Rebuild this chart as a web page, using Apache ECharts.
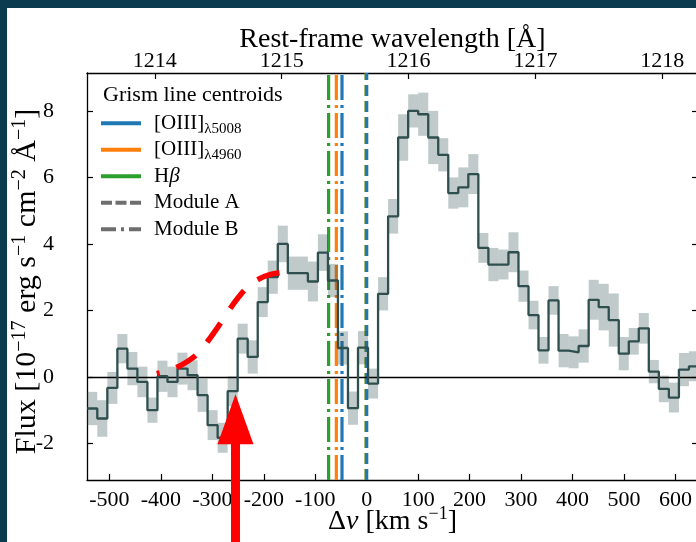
<!DOCTYPE html>
<html><head><meta charset="utf-8">
<script src="https://cdn.jsdelivr.net/npm/echarts@6/dist/echarts.min.js"></script>
<style>html,body{margin:0;padding:0;background:#0b3b4e;}#c{width:696px;height:542px;}</style>
</head><body><div id="c"></div>
<script>
// ---------- data ----------
// velocity bin edges (km/s)
const binEdges = [-543.1,-523.6,-504.1,-484.6,-465.1,-445.7,-426.2,-406.7,-387.2,-367.7,
  -348.2,-328.7,-309.2,-289.7,-270.2,-250.8,-231.3,-211.8,-192.3,-172.8,
  -153.3,-133.8,-114.3,-94.8,-75.3,-55.9,-36.4,-16.9,2.6,22.1,
  41.6,61.1,80.6,100.1,119.6,139.0,158.5,178.0,197.5,217.0,
  236.5,256.0,275.5,295.0,314.5,333.9,353.4,372.9,392.4,411.9,
  431.4,450.9,470.4,489.9,509.4,528.8,548.3,567.8,587.3,606.8,
  626.3,645.8];
// flux per bin (1e-17 erg/s/cm2/A)
const flux = [-0.95,-1.25,-0.33,0.85,0.25,-0.15,-1.0,0.02,-0.15,0.25,
  0.05,-0.55,-1.45,-1.83,-0.43,1.15,0.6,2.25,3.0,4.0,
  3.12,3.12,2.87,3.74,2.9,0.87,-0.94,0.88,-0.2,2.5,
  4.83,7.2,8.0,7.9,7.2,6.68,5.53,5.7,6.1,3.88,
  3.38,3.38,3.75,2.73,1.86,0.8,2.3,0.79,0.74,0.93,
  2.32,2.1,1.71,0.7,1.07,1.46,0.16,-0.36,-0.62,0.22,
  0.32];
// 1-sigma uncertainty per bin
const fluxErr = [0.5,0.55,0.48,0.44,0.5,0.46,0.38,0.47,0.46,0.48,
  0.45,0.5,0.45,0.45,0.45,0.45,0.5,0.45,0.5,0.55,
  0.5,0.5,0.6,0.55,0.5,0.5,0.5,0.5,0.45,0.5,
  0.52,0.7,0.5,0.65,0.8,0.5,0.47,0.6,0.6,0.45,
  0.5,0.45,0.6,0.47,0.43,0.4,0.43,0.5,0.48,0.5,
  0.6,0.7,0.8,0.5,0.4,0.46,0.35,0.4,0.45,0.5,
  0.45];
// red dashed curve
const modelDv   = [-408,-390,-370,-350,-330,-310,-290,-270,-250,-230,-210,-190,-170,-155];
const modelFlux = [0.10,0.17,0.28,0.45,0.68,1.05,1.48,1.95,2.38,2.72,2.94,3.07,3.13,3.15];
// grism line centroids (km/s)
const lineNames = ['[OIII]λ5008','[OIII]λ4960','Hβ'];
const moduleADv = [0, -0.6, -1.2];
const moduleBDv = [-48, -59, -74];
// red arrow
const arrowDv = -255, arrowFlux = -0.52;
// tick labels
const dvTicks = [-500,-400,-300,-200,-100,0,100,200,300,400,500,600];
const lamTicks = [1214,1215,1216,1217,1218];
const fluxTicks = [-2,0,2,4,6,8];

// ---------- chart ----------
const FONT = "'Liberation Serif', serif";
const X_MIN = -543.6, X_MAX = 643.9, Y_MIN = -3.1, Y_MAX = 9.14;
const LYA = 1215.67, C_KMS = 299792.458;
const lamMin = LYA * (1 + X_MIN / C_KMS), lamMax = LYA * (1 + X_MAX / C_KMS);
const lineColors = ['#1f77b4', '#ff7f0e', '#2ca02c'];
const GRAY = '#6e6e6e';
const dashA = [11, 5], dashB = [25, 5, 3, 5];

const chart = echarts.init(document.getElementById('c'), null, {renderer: 'canvas', width: 696, height: 542});

function axisCommon(ticks) {
  return {
    nameMoveOverlap: false,
    axisLine: {show: true, onZero: false, lineStyle: {color: '#000', width: 1.3}},
    axisTick: {show: true, inside: true, length: 6, customValues: ticks, lineStyle: {color: '#000', width: 1.2}},
    splitLine: {show: false},
    minorTick: {show: false}
  };
}
function nameStyle(size, sup) {
  return {
    fontFamily: FONT, fontSize: size, color: '#000', lineHeight: 34,
    rich: {
      sup: {fontFamily: FONT, fontSize: sup, lineHeight: 16, verticalAlign: 'top', color: '#000'},
      i: {fontFamily: FONT, fontSize: size, fontStyle: 'italic', lineHeight: 34, color: '#000'}
    }
  };
}

const series = [];
[2, 1, 0].forEach(i => {
  series.push({type: 'line', name: lineNames[i], color: lineColors[i], z: 1, silent: true, symbol: 'none',
    data: [[moduleBDv[i], Y_MIN], [moduleBDv[i], Y_MAX]],
    lineStyle: {color: lineColors[i], width: 3.2, type: dashB, cap: 'butt'}});
});
[2, 1, 0].forEach(i => {
  series.push({type: 'line', name: lineNames[i], color: lineColors[i], z: 1, silent: true, symbol: 'none',
    data: [[moduleADv[i], Y_MIN], [moduleADv[i], Y_MAX]],
    lineStyle: {color: lineColors[i], width: 3.2, type: dashA, cap: 'butt'}});
});
series.push({type: 'line', name: 'Module A', color: GRAY, data: [], symbol: 'none', lineStyle: {color: GRAY}});
series.push({type: 'line', name: 'Module B', color: GRAY, data: [], symbol: 'none', lineStyle: {color: GRAY}});
series.push({
  type: 'custom', name: 'err', z: 2, silent: true,
  dimensions: ['x0', 'x1', 'lo', 'hi'],
  encode: {x: [0, 1], y: [2, 3]},
  data: flux.map((f, i) => [binEdges[i], binEdges[i + 1], f - fluxErr[i], f + fluxErr[i]]),
  renderItem: (params, api) => {
    const p1 = api.coord([api.value(0), api.value(3)]);
    const p2 = api.coord([api.value(1), api.value(2)]);
    return {type: 'rect', shape: {x: p1[0], y: p1[1], width: p2[0] - p1[0], height: p2[1] - p1[1]},
      style: {fill: 'rgba(47,79,79,0.3)'}};
  }
});
series.push({
  type: 'line', name: 'spectrum', step: 'end', z: 3, silent: true, symbol: 'none',
  data: binEdges.map((e, i) => [e, flux[Math.min(i, flux.length - 1)]]),
  lineStyle: {color: '#2f4f4f', width: 2.3},
  markLine: {silent: true, symbol: 'none', label: {show: false}, z: 3,
    lineStyle: {color: '#000', width: 1.3, type: 'solid'}, data: [{yAxis: 0}]}
});
series.push({
  type: 'line', name: 'model', z: 5, silent: true, symbol: 'none', smooth: 0.4,
  data: modelDv.map((v, i) => [v, modelFlux[i]]),
  lineStyle: {color: '#ff0000', width: 5.5, type: [23, 17.5], dashOffset: 20, cap: 'butt'}
});
series.push({
  type: 'custom', name: 'arrow', z: 6, silent: true, clip: false,
  data: [[arrowDv, arrowFlux]],
  renderItem: (params, api) => {
    const t = api.coord([api.value(0), api.value(1)]);
    return {type: 'group', children: [
      {type: 'rect', shape: {x: t[0] - 4.5, y: t[1] + 45, width: 9, height: 200}, style: {fill: '#ff0000'}},
      {type: 'polygon', shape: {points: [[t[0], t[1]], [t[0] - 18, t[1] + 50], [t[0] + 18, t[1] + 50]]}, style: {fill: '#ff0000'}}
    ]};
  }
});

const legendFmt = name => {
  if (name.indexOf('[OIII]') === 0) return '[OIII]{s|' + name.slice(6) + '}';
  if (name === 'Hβ') return 'H{i|β}';
  return name;
};

chart.setOption({
  animation: false,
  backgroundColor: '#0b3b4e',
  graphic: [{type: 'rect', z: -10, silent: true, shape: {x: 7, y: 8, width: 689, height: 534}, style: {fill: '#ffffff'}}],
  title: {text: 'Grism line centroids', left: 103, top: 84, padding: 0,
    textStyle: {fontFamily: FONT, fontSize: 22, fontWeight: 'normal', color: '#000'}},
  legend: {
    orient: 'vertical', left: 101, top: 110, padding: 0, itemGap: 0,
    itemWidth: 40, itemHeight: 4, selectedMode: false,
    itemStyle: {borderWidth: 0},
    formatter: legendFmt,
    textStyle: {fontFamily: FONT, fontSize: 21, color: '#000', lineHeight: 26.5, padding: [0, 0, 0, 8],
      rich: {s: {fontFamily: FONT, fontSize: 15, lineHeight: 13, verticalAlign: 'bottom', color: '#000'},
             i: {fontFamily: FONT, fontSize: 21, lineHeight: 26.5, fontStyle: 'italic', color: '#000'}}},
    data: [
      {name: lineNames[0], icon: 'path://M0,0H40V4H0Z'},
      {name: lineNames[1], icon: 'path://M0,0H40V4H0Z'},
      {name: lineNames[2], icon: 'path://M0,0H40V4H0Z'},
      {name: 'Module A', icon: 'path://M0,0H11V4H0Z M14.5,0H25.5V4H14.5Z M29,0H40V4H29Z'},
      {name: 'Module B', icon: 'path://M0,0H15V4H0Z M20,0H23V4H20Z M28,0H40V4H28Z'}
    ]
  },
  grid: {left: 87, top: 73, width: 611, height: 407, containLabel: false, outerBoundsMode: 'none'},
  xAxis: [
    Object.assign({type: 'value', position: 'bottom', min: X_MIN, max: X_MAX,
      axisLabel: {customValues: dvTicks, color: '#000', fontFamily: FONT, fontSize: 22, margin: 9, formatter: v => String(v)},
      name: 'Δ{i|v} [km s{sup|−1}]', nameLocation: 'middle', nameGap: 25, nameTextStyle: nameStyle(28, 18)
    }, axisCommon(dvTicks)),
    Object.assign({type: 'value', position: 'top', min: lamMin, max: lamMax,
      axisLabel: {customValues: lamTicks, color: '#000', fontFamily: FONT, fontSize: 22, margin: 1, formatter: v => String(v)},
      name: 'Rest-frame wavelength [Å]', nameLocation: 'middle', nameGap: 16, nameTextStyle: nameStyle(28, 18)
    }, axisCommon(lamTicks))
  ],
  yAxis: [
    Object.assign({type: 'value', position: 'left', min: Y_MIN, max: Y_MAX,
      axisLabel: {customValues: fluxTicks, color: '#000', fontFamily: FONT, fontSize: 22, margin: 33, formatter: v => String(v)},
      name: 'Flux [10{sup|−17} erg s{sup|−1} cm{sup|−2} Å{sup|−1}]', nameLocation: 'middle', nameGap: 43,
      nameTextStyle: Object.assign(nameStyle(30, 20), {padding: [0, 10, 0, 0]})
    }, axisCommon(fluxTicks)),
    Object.assign({type: 'value', position: 'right', min: Y_MIN, max: Y_MAX,
      axisLabel: {show: false}
    }, axisCommon(fluxTicks))
  ],
  series: series
});
</script></body></html>
